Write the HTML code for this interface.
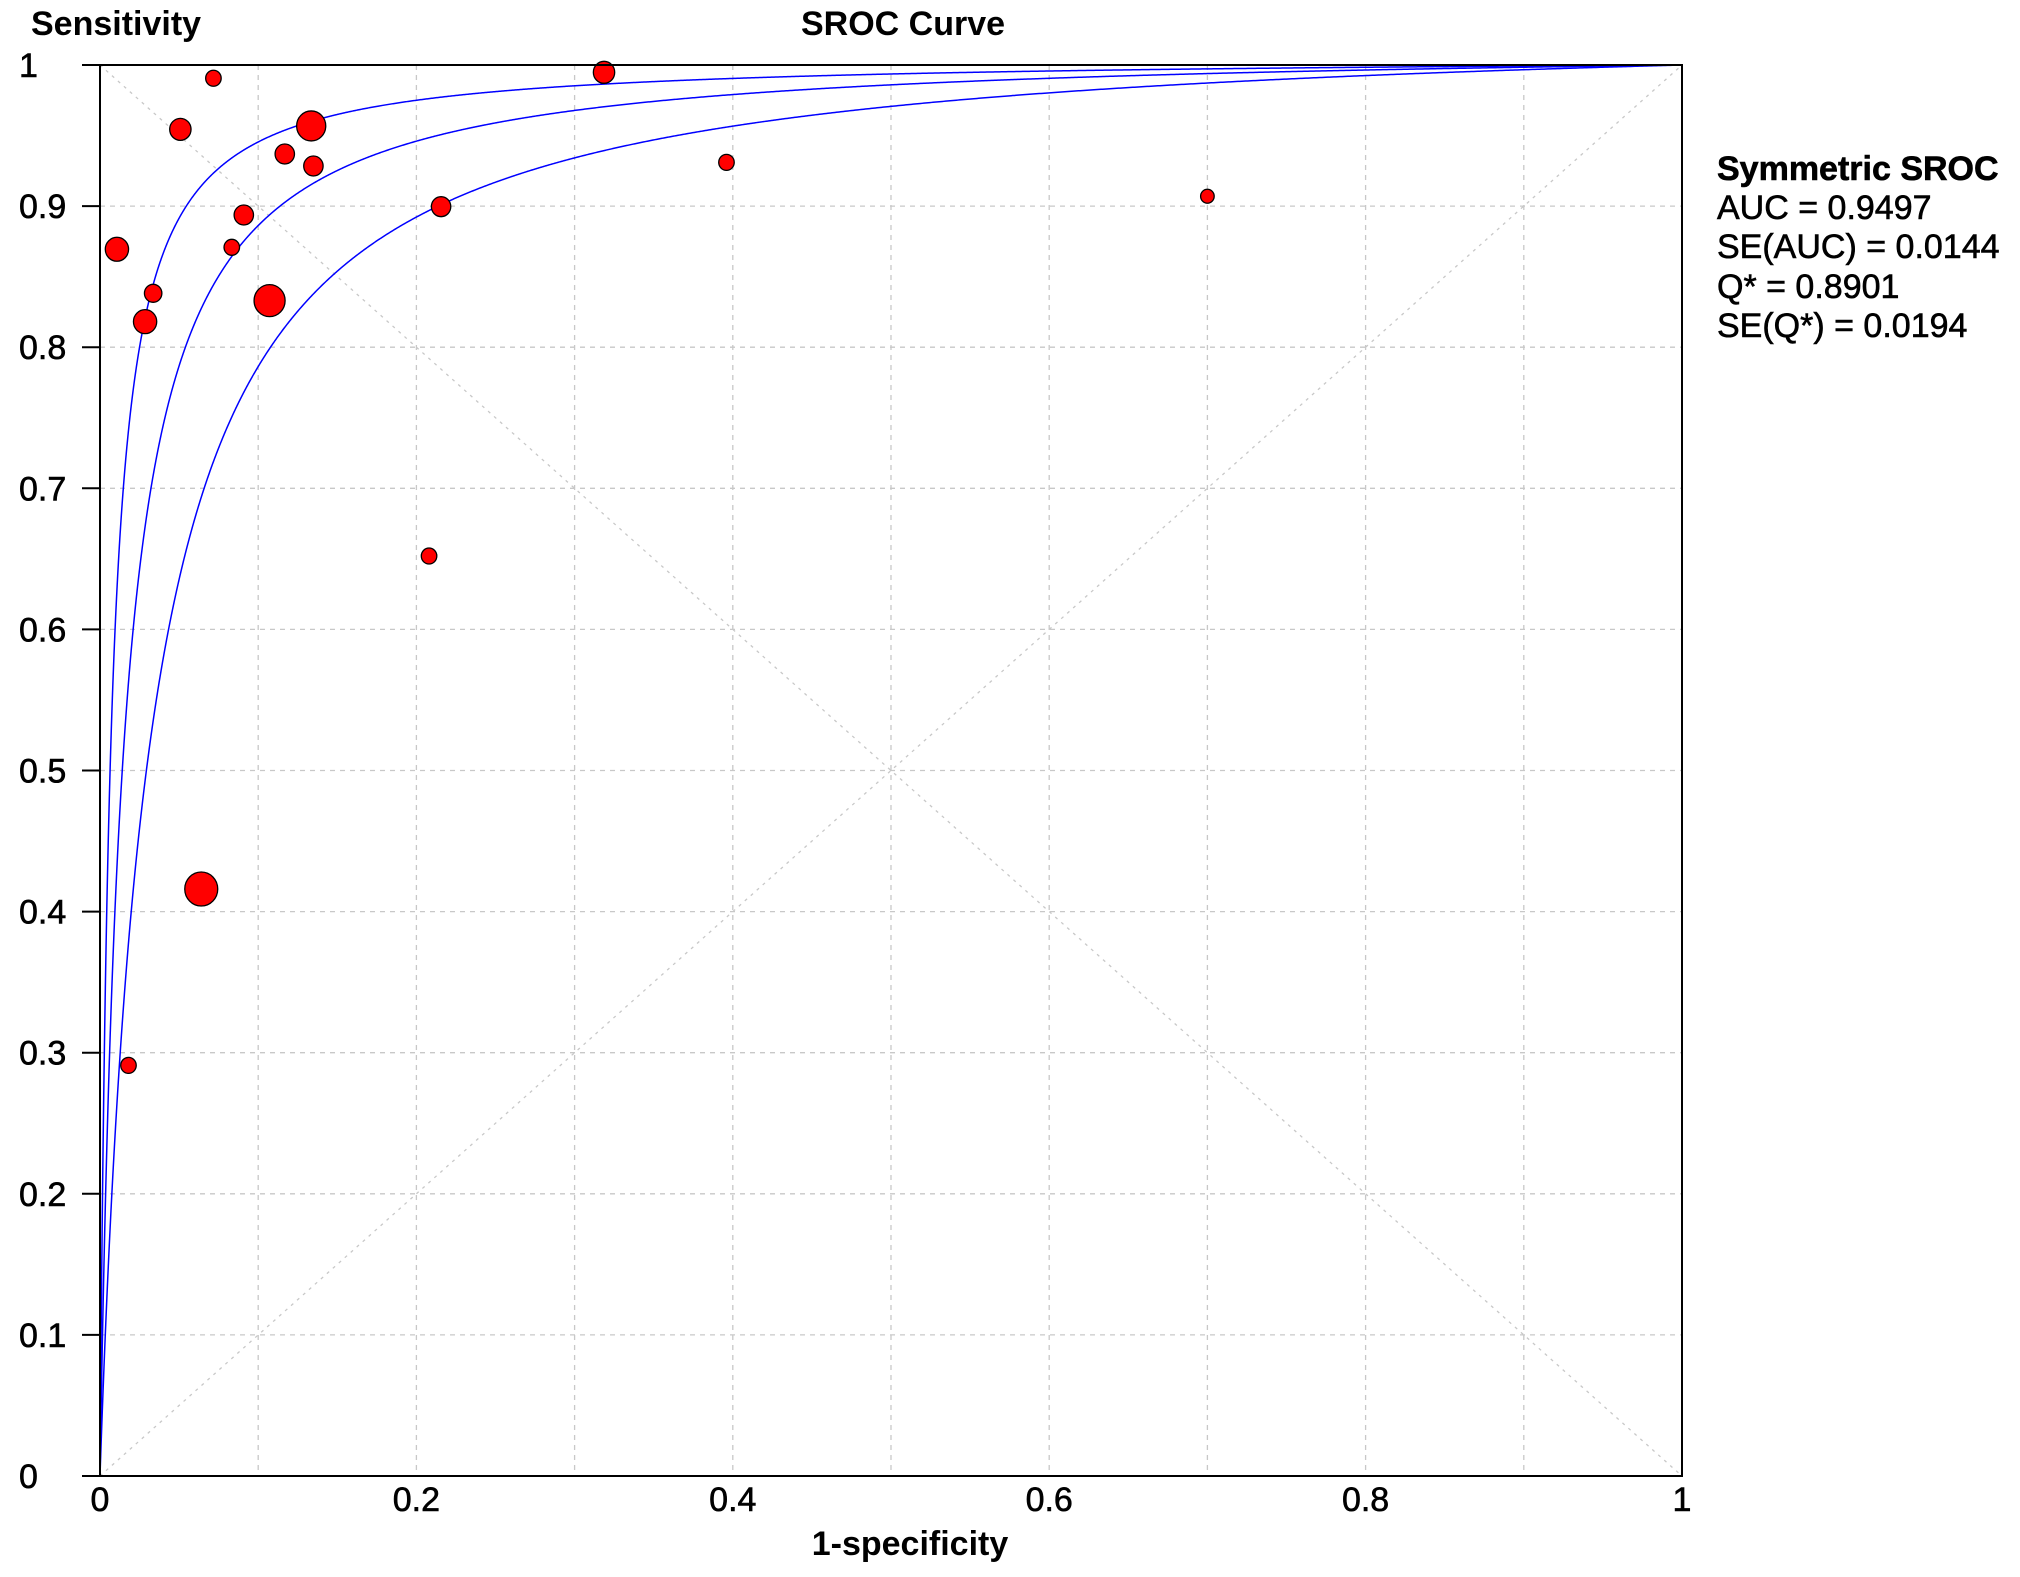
<!DOCTYPE html>
<html><head><meta charset="utf-8"><style>
html,body{margin:0;padding:0;background:#fff;}
svg{display:block;font-family:"Liberation Sans",Arial,sans-serif;}
</style></head><body>
<svg id="chart" width="2020" height="1577" viewBox="0 0 2020 1577" xmlns="http://www.w3.org/2000/svg">
<rect width="2020" height="1577" fill="#fff"/>
<text x="903" y="35" font-size="34" font-weight="bold" text-anchor="middle">SROC Curve</text>
<text x="31" y="35" font-size="34" font-weight="bold">Sensitivity</text>
<text x="910" y="1555" font-size="34" font-weight="bold" text-anchor="middle">1-specificity</text>
<g id="grid"></g>
<g id="curves"></g>
<g id="points"></g>
<g id="axes"></g>
<g font-size="34" stroke="#000" stroke-width="0.6">
<text x="1717" y="180" font-weight="bold">Symmetric SROC</text>
<text x="1717" y="219">AUC = 0.9497</text>
<text x="1717" y="258">SE(AUC) = 0.0144</text>
<text x="1717" y="298">Q* = 0.8901</text>
<text x="1717" y="337">SE(Q*) = 0.0194</text>
</g>
</svg>
<script>
const fprValues = [0.0717,0.0508,0.1335,0.1168,0.1349,0.0909,0.0107,0.0833,0.0336,0.1072,0.0285,0.2156,0.3186,0.396,0.700,0.208,0.064,0.018];
const sensValues = [0.9906,0.9544,0.9568,0.9369,0.9284,0.8937,0.8694,0.8708,0.8382,0.8330,0.8181,0.8996,0.9948,0.931,0.907,0.652,0.416,0.291];
const pointWeights = [8,11,15,10,10,10,12,8,9,16,12,10,11,8,7,8,17,8];
const curveD = [5.05,4.25,3.5];
const xTicks = [0,0.2,0.4,0.6,0.8,1];
const xTickLabels = ["0","0.2","0.4","0.6","0.8","1"];
const yTicks = [0,0.1,0.2,0.3,0.4,0.5,0.6,0.7,0.8,0.9,1];
const yTickLabels = ["0","0.1","0.2","0.3","0.4","0.5","0.6","0.7","0.8","0.9","1"];

const NS="http://www.w3.org/2000/svg";
const L=100,R=1682,T=65,B=1476;
const sx=v=>L+v*(R-L);
const sy=v=>B-v*(B-T);
function mk(tag,attrs,parent){const e=document.createElementNS(NS,tag);for(const k in attrs)e.setAttribute(k,attrs[k]);parent.appendChild(e);return e;}
const grid=document.getElementById('grid'),curves=document.getElementById('curves'),pts=document.getElementById('points'),axes=document.getElementById('axes');
for(let i=1;i<10;i++){
  const g1=mk('line',{x1:sx(i/10),x2:sx(i/10),y1:T,y2:B,stroke:'#c8c8c8','stroke-width':1.3,'stroke-dasharray':'5 5'},grid);
  
  
  const g2=mk('line',{x1:L,x2:R,y1:sy(i/10),y2:sy(i/10),stroke:'#c8c8c8','stroke-width':1.3,'stroke-dasharray':'5 5'},grid);
  
  
}
const d1=mk('line',{x1:sx(0),y1:sy(0),x2:sx(1),y2:sy(1),stroke:'#c8c8c8','stroke-width':1.3,'stroke-dasharray':'3 5'},grid);


const d2=mk('line',{x1:sx(0),y1:sy(1),x2:sx(1),y2:sy(0),stroke:'#c8c8c8','stroke-width':1.3,'stroke-dasharray':'3 5'},grid);


curveD.forEach((D,ci)=>{
  let p=[];
  for(let k=0;k<=2000;k++){
    const f=Math.pow(k/2000,3);
    let s;
    if(f<=0)s=0;else if(f>=1)s=1;else{const lg=Math.log(f/(1-f))+D;s=1/(1+Math.exp(-lg));}
    p.push(sx(f).toFixed(2)+','+sy(s).toFixed(2));
  }
  const c=mk('polyline',{points:p.join(' '),fill:'none',stroke:'#0000ff','stroke-width':1.5},curves);
  
  
});
fprValues.forEach((f,i)=>{
  const r=pointWeights[i];
  const c=mk('ellipse',{cx:sx(f),cy:sy(sensValues[i]),rx:r*0.97,ry:r,fill:'#ff0000',stroke:'#000','stroke-width':1.3},pts);
  
  
});
const fr=mk('rect',{x:L,y:T,width:R-L,height:B-T,fill:'none',stroke:'#000','stroke-width':2},axes);


yTicks.forEach((v,i)=>{
  const t=mk('line',{x1:82,x2:L,y1:sy(v),y2:sy(v),stroke:'#000','stroke-width':2},axes);
  
  
  const tx=mk('text',{x:19,y:sy(v)+12,'font-size':34,stroke:'#000','stroke-width':0.6},axes);
  tx.textContent=yTickLabels[i];
  
  
});
xTicks.forEach((v,i)=>{
  const tx=mk('text',{x:sx(v),y:1511,'font-size':34,'text-anchor':'middle',stroke:'#000','stroke-width':0.6},axes);
  tx.textContent=xTickLabels[i];
  
  
});
</script>
</body></html>
